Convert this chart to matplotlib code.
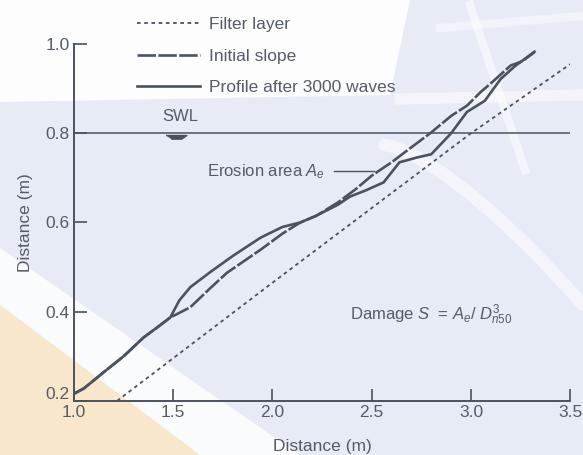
import matplotlib
matplotlib.use("Agg")
import matplotlib.pyplot as plt
from matplotlib.patches import Polygon
import matplotlib.transforms as mtransforms
import numpy as np

plt.rcParams['font.family'] = ['Liberation Sans', 'DejaVu Sans']
plt.rcParams['mathtext.fontset'] = 'custom'
plt.rcParams['mathtext.it'] = 'Liberation Sans:italic'
plt.rcParams['mathtext.rm'] = 'Liberation Sans'

# ---- data ----
filter_x = [1.217, 2.0, 3.0, 3.5]
filter_y = [0.2, 0.465, 0.8, 0.955]

initial_x = [1.0, 1.05, 1.146, 1.25, 1.35, 1.42, 1.485, 1.586, 1.687, 1.77, 1.94, 2.05, 2.14, 2.22,
             2.33, 2.42, 2.5, 2.6, 2.68, 2.8, 2.9, 2.98, 3.05, 3.1, 3.15, 3.2, 3.26, 3.32]
initial_y = [0.216, 0.228, 0.263, 0.30, 0.342, 0.365, 0.387, 0.41, 0.453, 0.487, 0.539, 0.575, 0.600, 0.615,
             0.645, 0.675, 0.705, 0.735, 0.762, 0.802, 0.839, 0.862, 0.893, 0.912, 0.932, 0.952, 0.962, 0.982]

profile_x = [1.0, 1.05, 1.146, 1.25, 1.35, 1.42, 1.485, 1.53, 1.586, 1.687, 1.80, 1.94, 2.05, 2.14, 2.22,
             2.33, 2.39, 2.47, 2.56, 2.64, 2.73, 2.80, 2.90, 2.98, 3.07, 3.15, 3.22, 3.32]
profile_y = [0.216, 0.228, 0.263, 0.30, 0.342, 0.365, 0.387, 0.425, 0.455, 0.489, 0.525, 0.566, 0.59, 0.600, 0.615,
             0.640, 0.658, 0.672, 0.69, 0.735, 0.746, 0.753, 0.80, 0.848, 0.873, 0.922, 0.950, 0.983]

swl_level = 0.8
xticks = [1.0, 1.5, 2.0, 2.5, 3.0, 3.5]
xticklabels = ['1.0', '1.5', '2.0', '2.5', '3.0', '3.5']
yticks = [0.2, 0.4, 0.6, 0.8, 1.0]
yticklabels = ['0.2', '0.4', '0.6', '0.8', '1.0']

ink = '#4a5260'
txtc = '#555c68'
fs = 12.5

fig = plt.figure(figsize=(5.83, 4.55), dpi=100)
fig.patch.set_facecolor('#e6ebf5')

# ---- watermark-like background ----
bg = fig.add_axes([0, 0, 1, 1], zorder=-1)
bg.set_xlim(0, 583); bg.set_ylim(455, 0); bg.axis('off')
bg.add_patch(Polygon([(0, 0), (410, 0), (390, 95), (0, 102)], closed=True, fc='#fdfdfe', ec='none'))
bg.add_patch(Polygon([(0, 248), (0, 305), (200, 455), (300, 455)], closed=True, fc='#fafbfc', ec='none'))
bg.add_patch(Polygon([(0, 305), (0, 455), (200, 455)], closed=True, fc='#f9e7cc', ec='none'))
t = np.linspace(0, 1, 50)
bg.plot(385 + 198 * t, 145 + 160 * t ** 1.4, color='white', lw=9, alpha=0.55, solid_capstyle='round')
bg.plot(470 + 55 * t, 5 + 165 * t, color='white', lw=6, alpha=0.5)
bg.plot(400 + 183 * t, 99 - 4 * t, color='white', lw=8, alpha=0.55)
bg.plot(440 + 143 * t, 28 - 12 * t, color='white', lw=6, alpha=0.45)

# ---- main axes ----
ax = fig.add_axes([0.127, 0.119, 0.851, 0.784])
ax.patch.set_alpha(0)
ax.set_xlim(1.0, 3.5)
ax.set_ylim(0.2, 1.0)

l_filter, = ax.plot(filter_x, filter_y, linestyle=(0, (2, 2)), color=ink, lw=1.3, label='Filter layer')
l_init, = ax.plot(initial_x, initial_y, linestyle=(0, (7, 0.9)), color=ink, lw=1.9, label='Initial slope')
l_prof, = ax.plot(profile_x, profile_y, linestyle='-', color=ink, lw=1.9, label='Profile after 3000 waves')
ax.axhline(swl_level, xmin=0, xmax=1, color=ink, lw=1.1)

for s in ['top', 'right']:
    ax.spines[s].set_visible(False)
for s in ['left', 'bottom']:
    ax.spines[s].set_color(ink)
    ax.spines[s].set_linewidth(1.4)

ax.set_xticks(xticks)
ax.set_yticks(yticks)
ax.set_xticklabels(xticklabels)
ax.set_yticklabels(yticklabels)
ax.tick_params(direction='in', length=9, width=1.2, color=ink, labelcolor=txtc, labelsize=fs)
ax.tick_params(axis='x', pad=3)
ax.tick_params(axis='y', pad=3)
# raise the lowest y label off the corner, as in the reference
lab0 = ax.get_yticklabels()[0]
lab0.set_transform(lab0.get_transform() + mtransforms.ScaledTranslation(0, 8 / 100, fig.dpi_scale_trans))

ax.set_xlabel('Distance (m)', fontsize=fs, color=txtc, labelpad=14)
ax.set_ylabel('Distance (m)', fontsize=fs, color=txtc, labelpad=9)

# annotations
ax.text(1.535, 0.837, 'SWL', fontsize=12, color=txtc, ha='center', va='center')
swl_marker = [(-1, 0), (1, 0), (0.5, -0.35), (-0.5, -0.35)]
ax.plot([1.515], [0.797], marker=swl_marker, markersize=15, color=ink, linestyle='none')
ax.text(1.672, 0.715, 'Erosion area $A_e$', fontsize=fs - 0.5, color=txtc, ha='left', va='center')
ax.plot([2.31, 2.51], [0.715, 0.715], color=ink, lw=1.0)
ax.text(2.39, 0.394, 'Damage $S$  = $A_e$/ $D^3_{n50}$', fontsize=fs - 0.5, color=txtc, ha='left', va='center')

leg = ax.legend(handles=[l_filter, l_init, l_prof], loc='upper left',
                bbox_to_anchor=(137 / 583, 1 - 17 / 455), bbox_transform=fig.transFigure,
                frameon=False, fontsize=fs, handlelength=3.6, handletextpad=0.55,
                labelspacing=0.95, borderaxespad=0, borderpad=0)
for txt in leg.get_texts():
    txt.set_color(txtc)

fig.savefig('out.png', dpi=100)
